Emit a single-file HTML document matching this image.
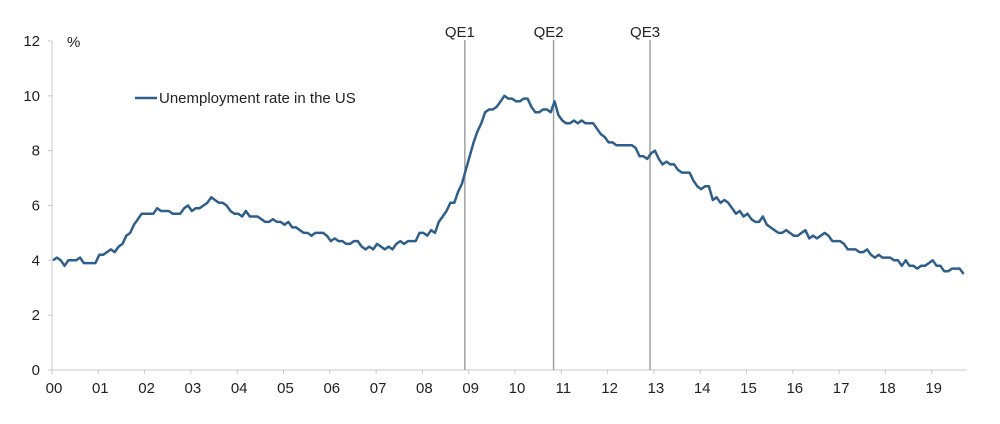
<!DOCTYPE html>
<html><head><meta charset="utf-8"><style>
html,body{margin:0;padding:0;background:#fff;}
svg{display:block;font-family:"Liberation Sans",Arial,sans-serif;}
</style></head><body>
<svg id="chart" width="1000" height="424" viewBox="0 0 1000 424">
<g id="axes"></g>
<g id="qe"></g>
<g id="series"></g>
<text x="67" y="47" font-size="15" fill="#222">%</text>
<g>
<line x1="135" y1="98" x2="157" y2="98" stroke="#2e5f8a" stroke-width="2.5"/>
<text x="159" y="103" font-size="15" fill="#222">Unemployment rate in the US</text>
</g>
</svg>
<script>
const years = ["00","01","02","03","04","05","06","07","08","09","10","11","12","13","14","15","16","17","18","19"];
const yTicks = [0,2,4,6,8,10,12];
const qeLabels = ["QE1","QE2","QE3"];
const qeMonths = [107,130,155];
const rate = [
4.0,4.1,4.0,3.8,4.0,4.0,4.0,4.1,3.9,3.9,3.9,3.9,
4.2,4.2,4.3,4.4,4.3,4.5,4.6,4.9,5.0,5.3,5.5,5.7,
5.7,5.7,5.7,5.9,5.8,5.8,5.8,5.7,5.7,5.7,5.9,6.0,
5.8,5.9,5.9,6.0,6.1,6.3,6.2,6.1,6.1,6.0,5.8,5.7,
5.7,5.6,5.8,5.6,5.6,5.6,5.5,5.4,5.4,5.5,5.4,5.4,
5.3,5.4,5.2,5.2,5.1,5.0,5.0,4.9,5.0,5.0,5.0,4.9,
4.7,4.8,4.7,4.7,4.6,4.6,4.7,4.7,4.5,4.4,4.5,4.4,
4.6,4.5,4.4,4.5,4.4,4.6,4.7,4.6,4.7,4.7,4.7,5.0,
5.0,4.9,5.1,5.0,5.4,5.6,5.8,6.1,6.1,6.5,6.8,7.3,
7.8,8.3,8.7,9.0,9.4,9.5,9.5,9.6,9.8,10.0,9.9,9.9,
9.8,9.8,9.9,9.9,9.6,9.4,9.4,9.5,9.5,9.4,9.8,9.3,
9.1,9.0,9.0,9.1,9.0,9.1,9.0,9.0,9.0,8.8,8.6,8.5,
8.3,8.3,8.2,8.2,8.2,8.2,8.2,8.1,7.8,7.8,7.7,7.9,
8.0,7.7,7.5,7.6,7.5,7.5,7.3,7.2,7.2,7.2,6.9,6.7,
6.6,6.7,6.7,6.2,6.3,6.1,6.2,6.1,5.9,5.7,5.8,5.6,
5.7,5.5,5.4,5.4,5.6,5.3,5.2,5.1,5.0,5.0,5.1,5.0,
4.9,4.9,5.0,5.1,4.8,4.9,4.8,4.9,5.0,4.9,4.7,4.7,
4.7,4.6,4.4,4.4,4.4,4.3,4.3,4.4,4.2,4.1,4.2,4.1,
4.1,4.1,4.0,4.0,3.8,4.0,3.8,3.8,3.7,3.8,3.8,3.9,
4.0,3.8,3.8,3.6,3.6,3.7,3.7,3.7,3.5
];
const NS="http://www.w3.org/2000/svg";
const X0=52, YW=46.3, Y0=370, Y12=41;
function xMonth(m){return X0+m*YW/12+1;}
function xYear(i){return X0+i*YW;}
function yv(v){return Y0-(v/12)*(Y0-Y12);}
function mk(tag,attrs,parent,text){const e=document.createElementNS(NS,tag);for(const k in attrs)e.setAttribute(k,attrs[k]);if(text!==undefined)e.textContent=text;parent.appendChild(e);return e;}
const axes=document.getElementById('axes');
const ya=mk('line',{x1:X0,y1:Y12,x2:X0,y2:Y0,stroke:'#c8c8c8','stroke-width':1},axes);


const xa=mk('line',{x1:X0,y1:Y0,x2:967,y2:Y0,stroke:'#c8c8c8','stroke-width':1},axes);


yTicks.forEach(v=>{
  const t=mk('line',{x1:X0-4,y1:yv(v),x2:X0,y2:yv(v),stroke:'#c8c8c8'},axes);
  
  
  const l=mk('text',{x:40,y:yv(v)+5,'font-size':15,fill:'#222','text-anchor':'end'},axes,String(v));
  
  
});
years.forEach((y,i)=>{
  const t=mk('line',{x1:xYear(i),y1:Y0,x2:xYear(i),y2:Y0+4,stroke:'#c8c8c8'},axes);
  
  
  const l=mk('text',{x:xYear(i)+2,y:Y0+23,'font-size':15,fill:'#222','text-anchor':'middle'},axes,y);
  
  
});
const qe=document.getElementById('qe');
qeMonths.forEach((m,i)=>{
  const x=X0+m*YW/12;
  const ln=mk('line',{x1:x,y1:40,x2:x,y2:Y0,stroke:'#a0a0a0','stroke-width':1.5},qe);
  
  
  const tx=mk('text',{x:x-5,y:37,'font-size':15,fill:'#222','text-anchor':'middle'},qe,qeLabels[i]);
  
  
});
const pts=rate.map((v,i)=>xMonth(i).toFixed(1)+','+yv(v).toFixed(1)).join(' ');
const pl=mk('polyline',{points:pts,fill:'none',stroke:'#2e5f8a','stroke-width':2.5,'stroke-linejoin':'round'},document.getElementById('series'));


</script>
</body></html>
